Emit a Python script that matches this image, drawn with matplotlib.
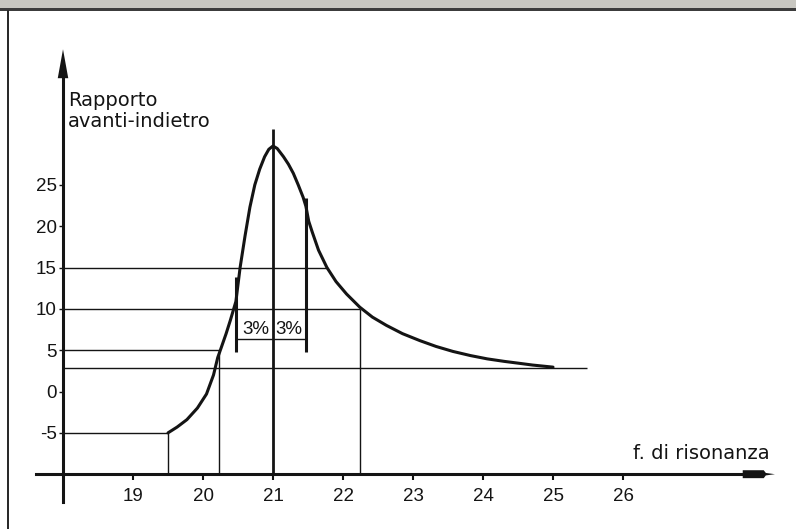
import matplotlib
matplotlib.use("Agg")
import matplotlib.pyplot as plt
from matplotlib.patches import Rectangle

plt.rcParams['axes.unicode_minus'] = False

# ---------------- data ----------------
freq_ticks = [19, 20, 21, 22, 23, 24, 25, 26]
ratio_ticks = [-5, 0, 5, 10, 15, 20, 25]

curve_freq = [19.50, 19.63, 19.77, 19.92, 20.05, 20.15, 20.21, 20.26, 20.33, 20.39,
              20.47, 20.53, 20.60, 20.67, 20.74, 20.81, 20.88, 20.94, 21.00, 21.06,
              21.15, 21.22, 21.29, 21.36, 21.43, 21.47, 21.51, 21.56, 21.65, 21.77,
              21.90, 22.05, 22.24, 22.42, 22.62, 22.85, 23.10, 23.33, 23.57, 23.82,
              24.06, 24.30, 24.53, 24.71, 25.00]
curve_ratio = [-5.0, -4.3, -3.4, -2.0, -0.3, 2.0, 4.1, 5.3, 7.0, 8.6,
               10.9, 15.0, 18.8, 22.3, 25.0, 26.9, 28.4, 29.3, 29.7, 29.4,
               28.4, 27.5, 26.4, 25.0, 23.5, 22.4, 20.6, 19.3, 17.1, 15.0,
               13.3, 11.8, 10.2, 9.0, 8.0, 7.0, 6.15, 5.45, 4.85, 4.35,
               3.95, 3.65, 3.4, 3.2, 2.95]

guide_h_level = [15, 10, 5, 2.9, -5]
guide_h_end = [21.79, 22.24, 20.23, 25.49, 19.50]
guide_v_pos = [19.50, 20.23, 22.24]
guide_v_top = [-5, 5, 10]

center_freq = 21.0
center_top = 31.7

band_freq = [20.47, 21.47]
band_low = [4.8, 4.8]
band_high = [13.9, 23.4]
bracket_level = 6.3
pct_labels = ['3%', '3%']
pct_freq = [20.76, 21.22]
pct_level = 6.9

y_label = 'Rapporto\navanti-indietro'
x_label = 'f. di risonanza'

# axis geometry
X_ORIGIN = 18.0
Y_ORIGIN = -10.0
X_MIN, X_MAX = 17.1, 28.471
Y_MIN, Y_MAX = -16.63, 47.36

NUM_FONT = 'Liberation Sans'
TXT_FONT = 'DejaVu Sans'
INK = '#141414'

fig = plt.figure(figsize=(7.96, 5.29), dpi=100)
fig.patch.set_facecolor('white')
ax = fig.add_axes([0, 0, 1, 1])
ax.set_facecolor('white')
ax.set_xlim(X_MIN, X_MAX)
ax.set_ylim(Y_MIN, Y_MAX)

# spines as the arrows' shafts
for s in ['top', 'right']:
    ax.spines[s].set_visible(False)
ax.spines['left'].set_position(('data', X_ORIGIN))
ax.spines['bottom'].set_position(('data', Y_ORIGIN))
ax.spines['left'].set_bounds(-13.4, 38.2)
ax.spines['bottom'].set_bounds(17.61, 27.75)
for s in ['left', 'bottom']:
    ax.spines[s].set_linewidth(2.2)
    ax.spines[s].set_color(INK)

ax.set_xticks(freq_ticks)
ax.set_xticklabels([str(t) for t in freq_ticks], fontfamily=NUM_FONT, fontsize=13.5)
ax.set_yticks(ratio_ticks)
ax.set_yticklabels([str(t) for t in ratio_ticks], fontfamily=NUM_FONT, fontsize=13.5)
ax.tick_params(axis='x', direction='out', length=4.5, width=1.5, pad=5.5, colors=INK)
ax.tick_params(axis='y', direction='out', length=3, width=1.0, pad=1.5, colors=INK)

# arrow heads
ax.fill([X_ORIGIN - 0.075, X_ORIGIN, X_ORIGIN + 0.075],
        [37.9, 41.4, 37.9], color=INK, lw=0)
ax.fill([27.71, 28.01, 28.04, 28.17, 28.04, 28.01, 27.71],
        [Y_ORIGIN - 0.48, Y_ORIGIN - 0.48, Y_ORIGIN - 0.15, Y_ORIGIN,
         Y_ORIGIN + 0.15, Y_ORIGIN + 0.48, Y_ORIGIN + 0.48], color=INK, lw=0)

# guide lines
ax.hlines(guide_h_level, X_ORIGIN, guide_h_end, color=INK, lw=1.0)
ax.vlines(guide_v_pos, Y_ORIGIN, guide_v_top, color=INK, lw=1.0)
ax.vlines([center_freq], Y_ORIGIN, center_top, color=INK, lw=2.0)

# 3% band markers
ax.vlines(band_freq, band_low, band_high, color=INK, lw=2.2)
ax.hlines([bracket_level], band_freq[0], band_freq[1], color=INK, lw=1.0)
for lab, f in zip(pct_labels, pct_freq):
    ax.text(f, pct_level, lab, ha='center', va='baseline',
            fontfamily=NUM_FONT, fontsize=13.5, color=INK)

# curve
ax.plot(curve_freq, curve_ratio, color=INK, lw=2.2, solid_capstyle='round',
        solid_joinstyle='round')

# labels
ax.text(18.07, 32.0, y_label, ha='left', va='baseline', fontfamily=TXT_FONT,
        fontsize=14, color=INK, linespacing=1.12)
ax.text(26.14, -8.17, x_label, ha='left', va='baseline', fontfamily=TXT_FONT,
        fontsize=14, color=INK)

# scan frame
H = 529.0
W = 796.0
fig.patches.append(Rectangle((0, 1 - 8 / H), 1, 8 / H, transform=fig.transFigure,
                             facecolor='#c8c7c1', edgecolor='none', zorder=5))
fig.patches.append(Rectangle((0, 1 - 11 / H), 1, 3.5 / H, transform=fig.transFigure,
                             facecolor='#3c3c3c', edgecolor='none', zorder=6))
fig.patches.append(Rectangle((6.5 / W, 0), 2.2 / W, 1 - 10 / H, transform=fig.transFigure,
                             facecolor='#2a2a2a', edgecolor='none', zorder=6))

fig.savefig('out.png', dpi=100, facecolor='white')
